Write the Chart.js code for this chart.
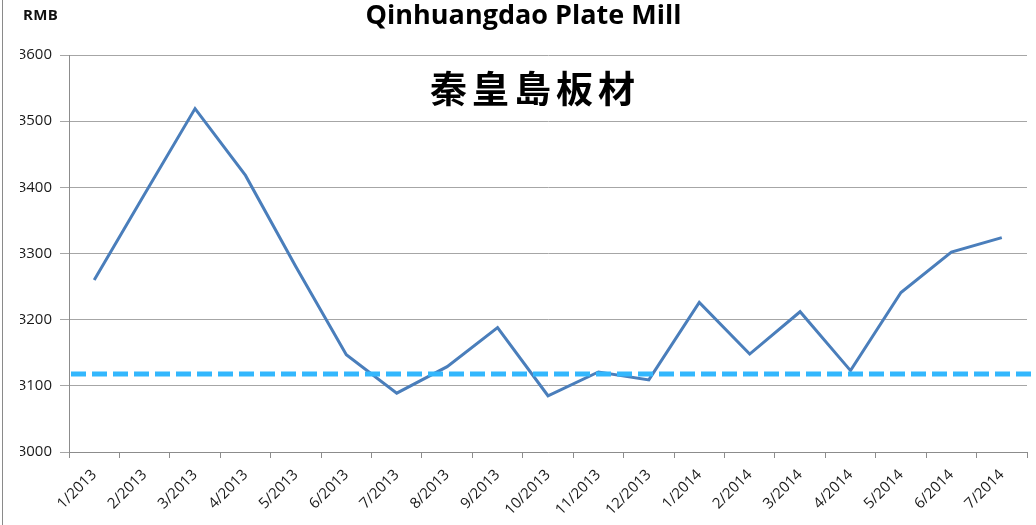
<!DOCTYPE html>
<html><head><meta charset="utf-8">
<script src="https://cdn.jsdelivr.net/npm/chart.js@4"></script>
<style>
html,body{margin:0;padding:0;background:#fff;}
#wrap{position:relative;width:1036px;height:525px;}
#frame{position:absolute;left:2px;top:0;width:1px;height:525px;background:#8a8a8a;}
#rmb{position:absolute;left:23px;top:4px;font:bold 15px "Open Sans", sans-serif;color:#111;letter-spacing:0.3px;}
#cn{position:absolute;left:430px;top:63px;font:600 37px "Noto Sans CJK TC";color:#000;letter-spacing:5px;line-height:48px;}
canvas{position:absolute;left:0;top:0;}
</style>
</head><body>
<div id="wrap">
<canvas id="c" width="1036" height="525"></canvas>
<div id="frame"></div>
<div id="rmb">RMB</div>
<div id="cn">秦皇島板材</div>
</div>
<script>
const categories = ['1/2013','2/2013','3/2013','4/2013','5/2013','6/2013','7/2013','8/2013','9/2013','10/2013','11/2013','12/2013','1/2014','2/2014','3/2014','4/2014','5/2014','6/2014','7/2014'];
const prices = [3260,3390,3519,3418,3280,3147,3089,3129,3188,3085,3121,3109,3226,3148,3212,3123,3241,3302,3324];
const referenceLevel = [3118];
const yTicks = [3000,3100,3200,3300,3400,3500,3600];
const titleText = 'Qinhuangdao Plate Mill';

const refLinePlugin = {
  id: 'refLine',
  afterDatasetsDraw(chart) {
    const ctx = chart.ctx, y = chart.scales.y.getPixelForValue(referenceLevel[0]);
    ctx.save();
    ctx.strokeStyle = '#33b7fd';
    ctx.lineWidth = 5;
    ctx.setLineDash([15, 6]);
    ctx.beginPath();
    ctx.moveTo(chart.chartArea.left + 2, y);
    ctx.lineTo(chart.width, y);
    ctx.stroke();
    ctx.restore();
  }
};

new Chart(document.getElementById('c'), {
  type: 'line',
  data: {
    labels: categories,
    datasets: [{
      data: prices,
      borderColor: '#4a7ebb',
      borderWidth: 3,
      pointRadius: 0,
      tension: 0,
      fill: false
    }]
  },
  options: {
    responsive: false,
    animation: false,
    devicePixelRatio: 1,
    layout: { padding: { left: 20, right: 9, top: 0, bottom: 0 } },
    plugins: {
      legend: { display: false },
      tooltip: { enabled: false },
      title: {
        display: true,
        text: titleText,
        color: '#000',
        font: { family: 'Open Sans', size: 27, weight: 'bold' },
        padding: { top: 0, bottom: 22.6 }
      }
    },
    scales: {
      x: {
        offset: true,
        grid: { display: true, drawOnChartArea: false, offset: true, tickLength: 6, color: '#8c8c8c' },
        border: { color: '#8c8c8c' },
        ticks: { color: '#1a1a1a', font: { family: 'Open Sans', size: 15 }, maxRotation: 45, minRotation: 45, autoSkip: false, padding: 8 },
        afterFit(s) { s.height = 73; }
      },
      y: {
        min: yTicks[0],
        max: yTicks[yTicks.length - 1],
        afterBuildTicks(s) { s.ticks = yTicks.map(v => ({ value: v })); },
        grid: { color: '#a6a6a6', tickLength: 9 },
        border: { color: '#8c8c8c' },
        ticks: { color: '#1a1a1a', font: { family: 'Open Sans', size: 15 }, padding: 8, callback: v => String(v) },
        afterFit(s) { s.width = 49; }
      }
    }
  },
  plugins: [refLinePlugin]
});
</script>
</body></html>
